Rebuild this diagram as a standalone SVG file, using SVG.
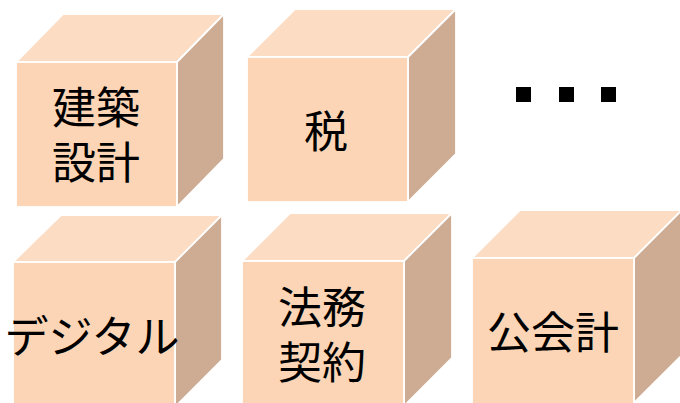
<svg xmlns="http://www.w3.org/2000/svg" width="680" height="403" viewBox="0 0 680 403">
<style>
.front{fill:#FBD5B5;stroke:#FFFFFF;stroke-width:1.8}
.top{fill:#FCDCC3;stroke:#FFFFFF;stroke-width:1.8}
.side{fill:#CDAC93;stroke:#FFFFFF;stroke-width:1.8}
.lbl{font-family:"Noto Sans CJK JP","Noto Sans CJK SC",sans-serif;font-size:44px;fill:#000000;text-anchor:middle}
.dot{fill:#000000}
</style>
<rect width="680" height="403" fill="#FFFFFF"/>
<g id="cube-kenchiku">
<polygon class="top" points="16,62 63,14 224,14 177,62"/>
<polygon class="side" points="177,62 224,14 224,159 177,207"/>
<rect class="front" x="16" y="62" width="161" height="145"/>
<text class="lbl"><tspan x="96" y="124">建築</tspan><tspan x="96" y="179">設計</tspan></text>
</g>
<g id="cube-zei">
<polygon class="top" points="247,57 295,9 456,9 408,57"/>
<polygon class="side" points="408,57 456,9 456,154 408,202"/>
<rect class="front" x="247" y="57" width="161" height="145"/>
<text class="lbl" x="326" y="148">税</text>
</g>
<g id="ellipsis">
<rect class="dot" x="516" y="87" width="15" height="15"/>
<rect class="dot" x="559" y="87" width="15" height="15"/>
<rect class="dot" x="601" y="87" width="15" height="15"/>
</g>
<g id="cube-digital">
<polygon class="top" points="13,262 61,215 222,215 175,262"/>
<polygon class="side" points="175,262 222,215 222,360 175,407"/>
<rect class="front" x="13" y="262" width="162" height="145"/>
<text class="lbl" x="92" y="353">デジタル</text>
</g>
<g id="cube-houmu">
<polygon class="top" points="242,261 290,213 452,213 404,261"/>
<polygon class="side" points="404,261 452,213 452,358 404,406"/>
<rect class="front" x="242" y="261" width="162" height="145"/>
<text class="lbl"><tspan x="322" y="324">法務</tspan><tspan x="322" y="379">契約</tspan></text>
</g>
<g id="cube-koukaikei">
<polygon class="top" points="472,258 520,210 682,210 634,258"/>
<polygon class="side" points="634,258 682,210 682,355 634,403"/>
<rect class="front" x="472" y="258" width="162" height="147"/>
<text class="lbl" x="553" y="349">公会計</text>
</g>
<g id="connectors"></g>
</svg>
